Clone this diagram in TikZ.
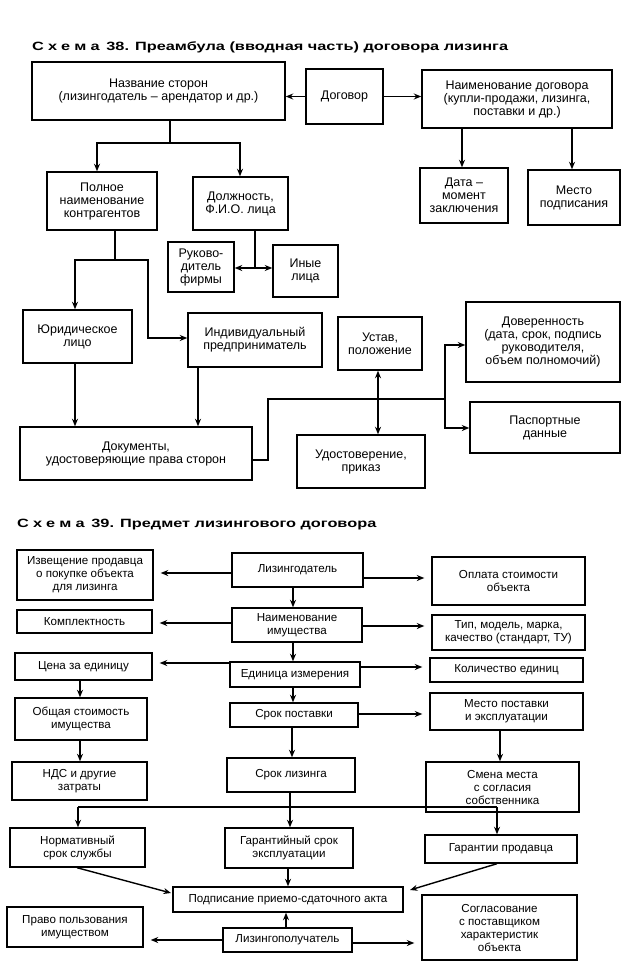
\documentclass[tikz,border=0pt]{standalone}
\usepackage{fontspec}
\setmainfont{Liberation Sans}
\usetikzlibrary{arrows.meta}
\newcommand\myfa{\fontsize{12.5}{13}\selectfont}
\newcommand\myfb{\fontsize{11.6}{13}\selectfont}
\newcommand\myft{\fontsize{12}{14}\selectfont\bfseries}
\newcommand\mywide[1]{\scalebox{1.36}[1]{#1}}
\tikzset{
  bx/.style={draw, line width=1.4pt, inner sep=0pt, align=center, font=\myfa},
  bxb/.style={bx, font=\myfb},
  ln/.style={line width=1.4pt},
  arr/.style={line width=1.4pt, -{Stealth[length=7.5pt,width=6pt]}},
  darr/.style={line width=1.4pt, {Stealth[length=7.5pt,width=6pt]}-{Stealth[length=7.5pt,width=6pt]}},
  garr/.style={arr, shorten >=7pt},
  ttl/.style={anchor=west, inner sep=0pt, font=\myft}
}
\begin{document}
\begin{tikzpicture}[x=1pt,y=-1pt]
\useasboundingbox (0,0) rectangle (625,972);
\fill[white] (0,0) rectangle (625,972);

% ---------- Scheme 38 ----------
\node[ttl] (t1) at (32,47) {\mywide{С\hspace{3pt}х\hspace{3pt}е\hspace{3pt}м\hspace{3pt}а\hspace{5pt}38. Преамбула (вводная часть) договора лизинга}};

\node[bx, minimum width=253, minimum height=58] (nazv) at (158.5,91) {Название сторон\\(лизингодатель – арендатор и др.)};
\node[bx, minimum width=77, minimum height=55] (dog) at (344.5,96.5) {Договор};
\node[bx, minimum width=190, minimum height=58] (naim) at (517,99) {Наименование договора\\(купли-продажи, лизинга,\\поставки и др.)};
\node[bx, minimum width=88, minimum height=55] (data) at (464,195.5) {Дата –\\момент\\заключения};
\node[bx, minimum width=92, minimum height=55] (mesto) at (574,197.5) {Место\\подписания};
\node[bx, minimum width=110, minimum height=58] (poln) at (102,201) {Полное\\наименование\\контрагентов};
\node[bx, minimum width=95, minimum height=53] (dolzh) at (240.5,203.5) {Должность,\\Ф.И.О. лица};
\node[bx, minimum width=66, minimum height=50] (ruk) at (201,267) {Руково-\\дитель\\фирмы};
\node[bx, minimum width=65, minimum height=52] (inye) at (305.5,271) {Иные\\лица};
\node[bx, minimum width=109, minimum height=53] (yur) at (77.5,336.5) {Юридическое\\лицо};
\node[bx, minimum width=134, minimum height=54] (ind) at (255,340) {Индивидуальный\\предприниматель};
\node[bx, minimum width=84, minimum height=53] (ustav) at (380,343.5) {Устав,\\положение};
\node[bx, minimum width=154, minimum height=80] (dover) at (543,342) {Доверенность\\(дата, срок, подпись\\руководителя,\\объем полномочий)};
\node[bx, minimum width=150, minimum height=51] (pasp) at (545,427.5) {Паспортные\\данные};
\node[bx, minimum width=232, minimum height=53] (dok) at (136,453.5) {Документы,\\удостоверяющие права сторон};
\node[bx, minimum width=128, minimum height=53] (udost) at (361,461.5) {Удостоверение,\\приказ};

\draw[arr] (dog.west) -- (dog.west -| nazv.east);
\draw[arr] (dog.east) -- (dog.east -| naim.west);
\coordinate (n1) at (462,0); \coordinate (n2) at (572,0);
\draw[arr] (naim.south -| n1) -- (data.north -| n1);
\draw[arr] (naim.south -| n2) -- (mesto.north -| n2);

\coordinate (j1) at (170,143); \coordinate (j1l) at (97,143); \coordinate (j1r) at (240,143);
\draw[ln] (nazv.south -| j1) -- (j1);
\draw[arr] (j1) -- (j1l) -- (poln.north -| j1l);
\draw[arr] (j1) -- (j1r) -- (dolzh.north -| j1r);

\coordinate (j2) at (255,268);
\draw[ln] (dolzh.south -| j2) -- (j2);
\draw[arr] (j2) -- (ruk.east |- j2);
\draw[arr] (j2) -- (inye.west |- j2);

\coordinate (j3) at (115,260); \coordinate (j3l) at (75,260); \coordinate (j3r) at (148,260); \coordinate (j3d) at (148,338);
\draw[ln] (poln.south -| j3) -- (j3);
\draw[arr] (j3) -- (j3l) -- (yur.north -| j3l);
\draw[arr] (j3) -- (j3r) -- (j3d) -- (ind.west |- j3d);

\draw[arr] (yur.south -| j3l) -- (dok.north -| j3l);
\coordinate (k1) at (198,0);
\draw[arr] (ind.south -| k1) -- (dok.north -| k1);

\coordinate (m1) at (268,460); \coordinate (m2) at (268,399); \coordinate (m3) at (445,399);
\coordinate (m4) at (445,345); \coordinate (m5) at (445,428);
\draw[ln] (dok.east |- m1) -- (m1) -- (m2) -- (m3);
\draw[arr] (m3) -- (m4) -- (dover.west |- m4);
\draw[arr] (m3) -- (m5) -- (pasp.west |- m5);
\coordinate (u1) at (378,0);
\draw[darr] (ustav.south -| u1) -- (udost.north -| u1);

% ---------- Scheme 39 ----------
\node[ttl] (t2) at (17,525) {\mywide{С\hspace{3pt}х\hspace{3pt}е\hspace{3pt}м\hspace{3pt}а\hspace{5pt}39. Предмет лизингового договора}};

\node[bxb, minimum width=136, minimum height=50] (izv) at (85,575) {Извещение продавца\\о покупке объекта\\для лизинга};
\node[bxb, minimum width=135, minimum height=23] (kompl) at (84.5,621.5) {Комплектность};
\node[bxb, minimum width=137, minimum height=27] (cena) at (83.5,666.5) {Цена за единицу};
\node[bxb, minimum width=132, minimum height=42] (obsh) at (81,719) {Общая стоимость\\имущества};
\node[bxb, minimum width=135, minimum height=38] (nds) at (79.5,781) {НДС и другие\\затраты};
\node[bxb, minimum width=135, minimum height=39] (norm) at (77.5,847.5) {Нормативный\\срок службы};
\node[bxb, minimum width=136, minimum height=40] (pravo) at (75,927) {Право пользования\\имуществом};

\node[bxb, minimum width=131, minimum height=34] (lizd) at (297.5,570) {Лизингодатель};
\node[bxb, minimum width=130, minimum height=34] (naimi) at (297,625) {Наименование\\имущества};
\node[bxb, minimum width=130, minimum height=25] (ed) at (295,674.5) {Единица измерения};
\node[bxb, minimum width=128, minimum height=24] (srokp) at (294,715) {Срок поставки};
\node[bxb, minimum width=128, minimum height=34] (srokl) at (291,775) {Срок лизинга};
\node[bxb, minimum width=128, minimum height=40] (garsr) at (289,848) {Гарантийный срок\\эксплуатации};
\node[bxb, minimum width=230, minimum height=25] (podp) at (288,899.5) {Подписание приемо-сдаточного акта};
\node[bxb, minimum width=129, minimum height=24] (lizp) at (287.5,940) {Лизингополучатель};

\node[bxb, minimum width=153, minimum height=48] (opl) at (508.5,581) {Оплата стоимости\\объекта};
\node[bxb, minimum width=153, minimum height=35] (tip) at (508.5,632.5) {Тип, модель, марка,\\качество (стандарт, ТУ)};
\node[bxb, minimum width=153, minimum height=24] (kol) at (506.5,670) {Количество единиц};
\node[bxb, minimum width=153, minimum height=37] (mestop) at (506.5,711.5) {Место поставки\\и эксплуатации};
\node[bxb, minimum width=153, minimum height=50] (smena) at (502.5,787) {Смена места\\с согласия\\собственника};
\node[bxb, minimum width=152, minimum height=28] (garpr) at (501,849) {Гарантии продавца};
\node[bxb, minimum width=155, minimum height=65] (sogl) at (499.5,927.5) {Согласование\\с поставщиком\\характеристик\\объекта};

% left / right arrows
\coordinate (h1) at (0,573); \coordinate (h2) at (0,623); \coordinate (h3) at (0,663);
\draw[garr] (lizd.west |- h1) -- (izv.east |- h1);
\draw[garr] (naimi.west |- h2) -- (kompl.east |- h2);
\draw[garr] (ed.west |- h3) -- (cena.east |- h3);
\coordinate (r1) at (0,578); \coordinate (r2) at (0,626); \coordinate (r3) at (0,667); \coordinate (r4) at (0,714);
\draw[garr] (lizd.east |- r1) -- (opl.west |- r1);
\draw[garr] (naimi.east |- r2) -- (tip.west |- r2);
\draw[garr] (ed.east |- r3) -- (kol.west |- r3);
\draw[garr] (srokp.east |- r4) -- (mestop.west |- r4);

% central column
\coordinate (v1) at (293,0); \coordinate (v2) at (292,0); \coordinate (v3) at (290,0);
\coordinate (v4) at (288,0); \coordinate (v5) at (286,0);
\draw[arr] (lizd.south -| v1) -- (naimi.north -| v1);
\draw[arr] (naimi.south -| v1) -- (ed.north -| v1);
\draw[arr] (ed.south -| v1) -- (srokp.north -| v1);
\draw[arr] (srokp.south -| v2) -- (srokl.north -| v2);
\draw[arr] (srokl.south -| v3) -- (garsr.north -| v3);
\draw[arr] (garsr.south -| v4) -- (podp.north -| v4);
\draw[arr] (lizp.north -| v5) -- (podp.south -| v5);

% left column
\coordinate (w1) at (80,0);
\draw[arr] (cena.south -| w1) -- (obsh.north -| w1);
\draw[arr] (obsh.south -| w1) -- (nds.north -| w1);

% right column
\coordinate (e1) at (500,0);
\draw[arr] (mestop.south -| e1) -- (smena.north -| e1);

% branch line
\coordinate (b1) at (78,807); \coordinate (b2) at (497,807);
\draw[ln] (b1) -- (b2);
\draw[arr] (b1) -- (norm.north -| b1);
\draw[arr] (b2) -- (garpr.north -| b2);

% diagonals
\coordinate (d1) at (77,867); \coordinate (d2) at (171,893);
\coordinate (d3) at (497,863); \coordinate (d4) at (410,890);
\draw[arr] (norm.south -| d1) -- (d2);
\draw[arr] (garpr.south -| d3) -- (d4);

% bottom
\coordinate (p1) at (0,940); \coordinate (p2) at (0,943);
\draw[garr] (lizp.west |- p1) -- (pravo.east |- p1);
\draw[garr] (lizp.east |- p2) -- (sogl.west |- p2);
\end{tikzpicture}
\end{document}
